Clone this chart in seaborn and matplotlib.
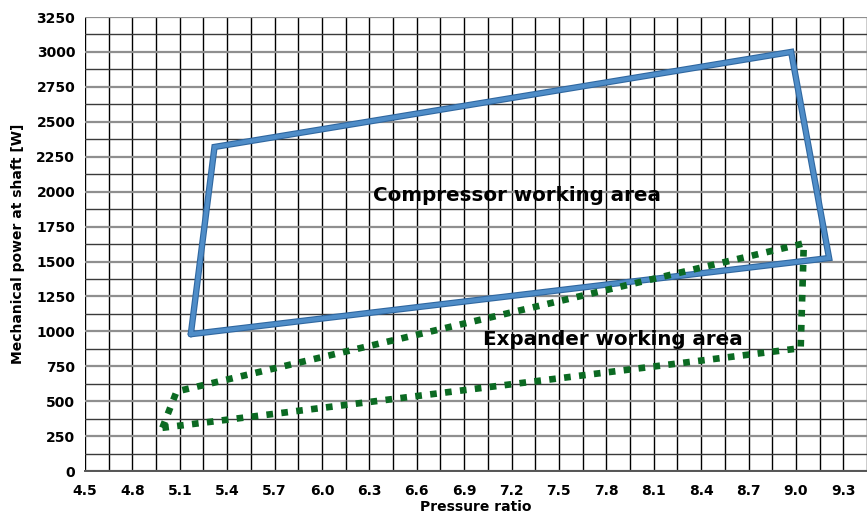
import numpy as np
import pandas as pd
import matplotlib
matplotlib.use("Agg")
import matplotlib.pyplot as plt
import matplotlib.patheffects as pe
from matplotlib.ticker import MultipleLocator
import seaborn as sns

# Operating envelope corners (closed polygons)
compressor_ratio = [5.17, 5.32, 8.97, 9.21, 5.17]
compressor_power = [980, 2320, 3000, 1525, 980]

expander_ratio = [4.99, 5.08, 9.05, 9.03, 4.99]
expander_power = [310, 570, 1630, 880, 310]

x_ticks = [4.5, 4.8, 5.1, 5.4, 5.7, 6.0, 6.3, 6.6, 6.9, 7.2, 7.5, 7.8, 8.1, 8.4, 8.7, 9.0, 9.3]
y_ticks = [0, 250, 500, 750, 1000, 1250, 1500, 1750, 2000, 2250, 2500, 2750, 3000, 3250]

sns.set_theme(style="white")
plt.rcParams["font.family"] = ["DejaVu Sans"]
plt.rcParams.update({"text.color": "black", "axes.labelcolor": "black",
                     "xtick.color": "black", "ytick.color": "black"})

fig = plt.figure(figsize=(8.67, 5.16), dpi=100)
ax = fig.add_axes([0.098, 0.087, 0.902, 0.88])

# grid: black verticals every 0.15, grey horizontals every 125
ax.set_xlim(4.5, 9.45)
ax.set_ylim(0, 3250)
ax.xaxis.set_major_locator(MultipleLocator(0.3))
ax.xaxis.set_minor_locator(MultipleLocator(0.15))
ax.yaxis.set_major_locator(MultipleLocator(250))
ax.yaxis.set_minor_locator(MultipleLocator(125))
ax.grid(which="both", axis="x", color="black", linewidth=1.0)
ax.grid(which="major", axis="y", color="#8f8f8f", linewidth=1.6)
ax.grid(which="minor", axis="y", color="#3a3a3a", linewidth=1.0)
ax.set_axisbelow(True)

comp = pd.DataFrame({"ratio": compressor_ratio, "power": compressor_power,
                     "order": range(len(compressor_ratio))})
expd = pd.DataFrame({"ratio": expander_ratio, "power": expander_power,
                     "order": range(len(expander_ratio))})

sns.lineplot(data=comp, x="ratio", y="power", sort=False, estimator=None,
             color="#4f8dc8", linewidth=3.0, ax=ax,
             path_effects=[pe.Stroke(linewidth=4.6, foreground="#2f67a0"), pe.Normal()],
             solid_joinstyle="miter", zorder=3)
sns.lineplot(data=expd, x="ratio", y="power", sort=False, estimator=None,
             color="#0b6a22", linewidth=4.8, linestyle=(0, (1.0, 1.25)),
             dash_capstyle="butt", ax=ax, zorder=4)

ax.text(6.32, 1975, "Compressor working area", fontsize=14.3, fontweight="bold",
        va="center", ha="left", color="black", zorder=5)
ax.text(7.02, 945, "Expander working area", fontsize=14.3, fontweight="bold",
        va="center", ha="left", color="black", zorder=5)

ax.set_xticks(x_ticks)
ax.set_xticklabels([f"{v:.1f}" for v in x_ticks])
ax.set_yticks(y_ticks)
ax.set_yticklabels([str(v) for v in y_ticks])
ax.tick_params(axis="both", which="both", direction="out", length=4, width=1,
               color="black", labelcolor="black", labelsize=10, pad=3)
ax.tick_params(axis="x", which="major", pad=5)
for lab in ax.get_xticklabels() + ax.get_yticklabels():
    lab.set_fontweight("bold")

for side in ["top", "right"]:
    ax.spines[side].set_visible(False)
ax.spines["left"].set_visible(False)
ax.spines["bottom"].set_color("#555555")
ax.spines["bottom"].set_linewidth(1.4)

ax.set_xlabel("Pressure ratio", fontsize=10, fontweight="bold", labelpad=2, color="black")
ax.set_ylabel("Mechanical power at shaft [W]", fontsize=10, fontweight="bold",
              labelpad=8, color="black")

fig.savefig("out.png", dpi=100)
